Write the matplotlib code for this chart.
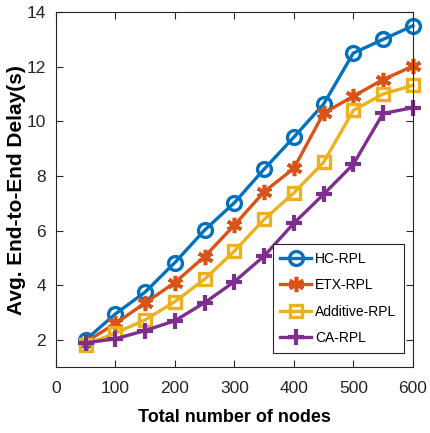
import numpy as np
import matplotlib
matplotlib.use('Agg')
import matplotlib.pyplot as plt

plt.rcParams['font.family'] = ['Liberation Sans', 'DejaVu Sans']

# data
nodes = [50, 100, 150, 200, 250, 300, 350, 400, 450, 500, 550, 600]
hc_rpl = [2.0, 2.95, 3.75, 4.83, 6.02, 7.02, 8.25, 9.42, 10.63, 12.5, 13.0, 13.5]
etx_rpl = [1.92, 2.6, 3.35, 4.1, 5.05, 6.2, 7.42, 8.28, 10.3, 10.92, 11.53, 12.02]
additive_rpl = [1.82, 2.25, 2.73, 3.4, 4.22, 5.25, 6.41, 7.38, 8.5, 10.4, 11.0, 11.32]
ca_rpl = [1.89, 2.04, 2.34, 2.7, 3.36, 4.13, 5.07, 6.27, 7.33, 8.43, 10.29, 10.5]

series = [
    ('HC-RPL', hc_rpl, '#0072BD', 'o'),
    ('ETX-RPL', etx_rpl, '#D95319', (6, 2, 0)),
    ('Additive-RPL', additive_rpl, '#EDB120', 's'),
    ('CA-RPL', ca_rpl, '#7E2F8E', 'P'),
]

fig = plt.figure(figsize=(4.3, 4.33), dpi=100)
ax = fig.add_axes([0.130, 0.152, 0.830, 0.820])

for name, vals, col, mk in series:
    if mk == 'P':
        ax.plot(nodes, vals, color=col, lw=2.4, marker='+', ms=12, mew=3,
                label=name, clip_on=False)
    elif mk == 'o' or mk == 's':
        ax.plot(nodes, vals, color=col, lw=2.4, marker=mk, ms=10 if mk == 'o' else 8.5,
                mew=2.4, mfc='none', label=name, clip_on=False)
    else:
        ax.plot(nodes, vals, color=col, lw=2.4, marker=mk, ms=11, mew=2.6,
                label=name, clip_on=False)

ax.set_xlim(0, 600)
ax.set_ylim(1, 14)
ax.set_xticks(np.arange(0, 601, 100))
ax.set_yticks(np.arange(2, 15, 2))
ax.tick_params(direction='in', top=True, right=True, labelsize=12.5, length=5,
               width=0.8, colors='#262626')
ax.tick_params(axis='x', pad=10)
ax.tick_params(axis='y', pad=7)
for sp in ax.spines.values():
    sp.set_color('#262626')
    sp.set_linewidth(0.8)

ax.set_xlabel('Total number of nodes', fontsize=13, fontweight='bold', labelpad=9)
ax.set_ylabel('Avg. End-to-End Delay(s)', fontsize=15, fontweight='bold')
ax.yaxis.set_label_coords(-0.085, 0.5)

leg = ax.legend(loc='lower right', bbox_to_anchor=(0.975, 0.04), fontsize=10,
                handlelength=2.2, fancybox=False, edgecolor='#262626', framealpha=1,
                borderaxespad=0, labelspacing=0.9, handletextpad=0.3, borderpad=0.55)
leg.get_frame().set_linewidth(0.8)

fig.savefig('out.png', dpi=100)
